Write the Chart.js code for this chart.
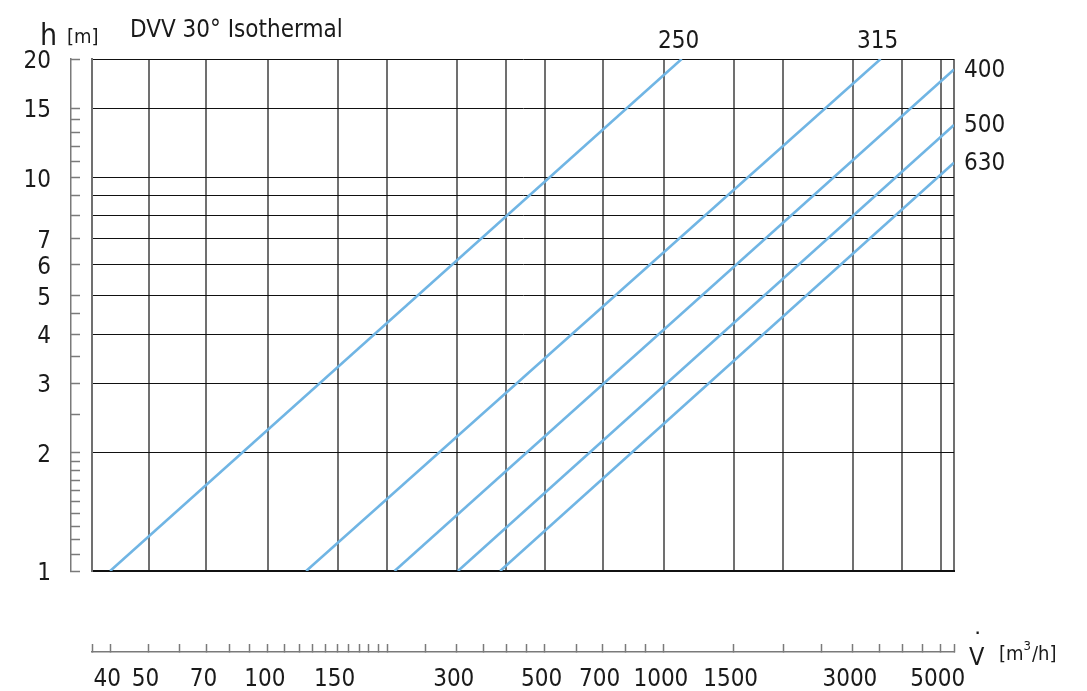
<!DOCTYPE html>
<html>
<head>
<meta charset="utf-8">
<script src="https://cdn.jsdelivr.net/npm/chart.js@4.4.1/dist/chart.umd.min.js"></script>
<style>
  html, body { margin: 0; padding: 0; background: #fff; }
  #wrap { width: 1087px; height: 691px; }
</style>
</head>
<body>
<div id="wrap"><canvas id="chart" width="1087" height="691"></canvas></div>
<script>
// Kurven DVV 30° isotherm: Nenngröße, Start- und Endpunkt (V in m3/h, h in m)
const sizes  = ['250', '315', '400', '500', '630'];
const startV = [40, 125, 209, 302, 386];
const startH = [1, 1, 1, 1, 1];
const endV   = [1109, 3525, 5400, 5400, 5400];
const endH   = [20, 20, 18.8, 13.6, 10.9];

// Achsen
const xMin = 36, xMax = 5400;
const yMin = 1,  yMax = 20;
const xGrid = [50, 70, 100, 150, 200, 300, 400, 500, 700, 1000, 1500, 2000, 3000, 4000, 5000, 5400];
const xRulerTicks = [36, 40, 50, 60, 70, 80, 90, 100, 110, 120, 130, 140, 150, 160, 170, 180, 190, 200,
                     250, 300, 350, 400, 450, 500, 600, 700, 800, 900, 1000, 1500, 2000, 2500, 3000,
                     3500, 4000, 4500, 5000, 5400];
const xLabels = [40, 50, 70, 100, 150, 300, 500, 700, 1000, 1500, 3000, 5000];
const yGrid = [1, 2, 3, 4, 5, 6, 7, 8, 9, 10, 15, 20];
const yRulerTicks = [1, 1.1, 1.2, 1.3, 1.4, 1.5, 1.6, 1.7, 1.8, 1.9, 2, 2.5, 3, 3.5, 4, 4.5, 5, 6, 7, 8, 9,
                     10, 11, 12, 13, 14, 15, 20];
const yLabels = [1, 2, 3, 4, 5, 6, 7, 10, 15, 20];

const FONT = "'Liberation Sans Narrow', 'DejaVu Sans Condensed', sans-serif";
const TXT = '#1a1a1a';
const RULER = '#7a7a7a';

// Datensätze: je Kurve eine Gerade im log-log Diagramm
let datasets = sizes.map((s, i) => ({
    label: s,
    data: [{x: startV[i], y: startH[i]}, {x: endV[i], y: endH[i]}],
    borderColor: '#70b5e4',
    borderWidth: 2.6,
    pointRadius: 0,
    fill: false,
    tension: 0,
}));

// Beschriftungen (Titel, Einheiten, Kurvennamen)
const textPlugin = {
    id: 'texts',
    afterDraw(chart) {
        const ctx = chart.ctx;
        const x = chart.scales.x, y = chart.scales.y;
        ctx.save();
        ctx.fillStyle = TXT;
        ctx.textBaseline = 'alphabetic';
        ctx.textAlign = 'left';
        ctx.font = '30px ' + FONT;
        ctx.fillText('h', 40, 45);
        ctx.font = '20px ' + FONT;
        ctx.fillText('[m]', 67, 43);
        ctx.font = '24px ' + FONT;
        ctx.fillText('DVV 30° Isothermal', 130, 37);

        // Kurvennamen
        ctx.font = '24px ' + FONT;
        sizes.forEach((s, i) => {
            let px = x.getPixelForValue(endV[i]);
            let py = y.getPixelForValue(endH[i]);
            if (endH[i] >= yMax) {
                ctx.textAlign = 'center';
                ctx.textBaseline = 'alphabetic';
                ctx.fillText(s, px - 3, py - 11);
            } else {
                ctx.textAlign = 'left';
                ctx.textBaseline = 'middle';
                ctx.fillText(s, px + 10, py + 1);
            }
        });

        // V-Punkt Achsentitel
        ctx.textAlign = 'left';
        ctx.textBaseline = 'alphabetic';
        ctx.font = '25px ' + FONT;
        ctx.fillText('V', 969, 665);
        ctx.fillText('\u02D9', 972, 650);
        ctx.font = '20px ' + FONT;
        ctx.fillText('[m', 999, 660);
        let w = ctx.measureText('[m').width;
        ctx.font = '13px ' + FONT;
        ctx.fillText('3', 999 + w, 650);
        let w3 = ctx.measureText('3').width;
        ctx.font = '20px ' + FONT;
        ctx.fillText('/h]', 999 + w + w3 + 1, 660);
        ctx.restore();
    }
};

const config = {
    type: 'line',
    data: { datasets: datasets },
    options: {
        responsive: false,
        animation: false,
        events: [],
        layout: { padding: { left: 0, right: 133, top: 59, bottom: 0 } },
        plugins: {
            legend: { display: false },
            tooltip: { enabled: false },
            title: { display: false },
        },
        scales: {
            x: {
                type: 'logarithmic',
                position: 'bottom',
                min: xMin, max: xMax,
                afterBuildTicks: axis => { axis.ticks = xGrid.map(v => ({value: v})); },
                afterFit: axis => { axis.height = 81; },
                ticks: { display: false },
                grid: { color: '#707070', lineWidth: 2, drawTicks: false },
                border: { display: true, color: '#111', width: 2 },
            },
            xr: {
                type: 'logarithmic',
                position: 'bottom',
                min: xMin, max: xMax,
                afterBuildTicks: axis => { axis.ticks = xRulerTicks.map(v => ({value: v})); },
                afterFit: axis => { axis.height = 39; },
                ticks: {
                    autoSkip: false, maxRotation: 0, minRotation: 0,
                    padding: 21, labelOffset: -3,
                    color: TXT, font: { family: FONT, size: 24 },
                    callback: v => xLabels.includes(v) ? String(v) : '',
                },
                grid: { drawOnChartArea: false, drawTicks: true, tickLength: -8, tickColor: RULER, tickWidth: 1.5 },
                border: { display: true, color: RULER, width: 1.5 },
            },
            y: {
                type: 'logarithmic',
                position: 'left',
                min: yMin, max: yMax,
                afterBuildTicks: axis => { axis.ticks = yGrid.map(v => ({value: v})); },
                afterFit: axis => { axis.width = 21; },
                ticks: { display: false },
                grid: { color: '#111', lineWidth: 1, drawTicks: false },
                border: { display: true, color: '#707070', width: 2 },
            },
            yr: {
                type: 'logarithmic',
                position: 'left',
                min: yMin, max: yMax,
                afterBuildTicks: axis => { axis.ticks = yRulerTicks.map(v => ({value: v})); },
                afterFit: axis => { axis.width = 71; },
                ticks: {
                    autoSkip: false,
                    padding: 29, labelOffset: 3,
                    color: TXT, font: { family: FONT, size: 24 },
                    callback: v => yLabels.includes(v) ? String(v) : '',
                },
                grid: { drawOnChartArea: false, drawTicks: true, tickLength: -9, tickColor: RULER, tickWidth: 1.5 },
                border: { display: true, color: RULER, width: 1.5 },
            },
        },
    },
    plugins: [textPlugin],
};

new Chart(document.getElementById('chart'), config);
</script>
</body>
</html>
